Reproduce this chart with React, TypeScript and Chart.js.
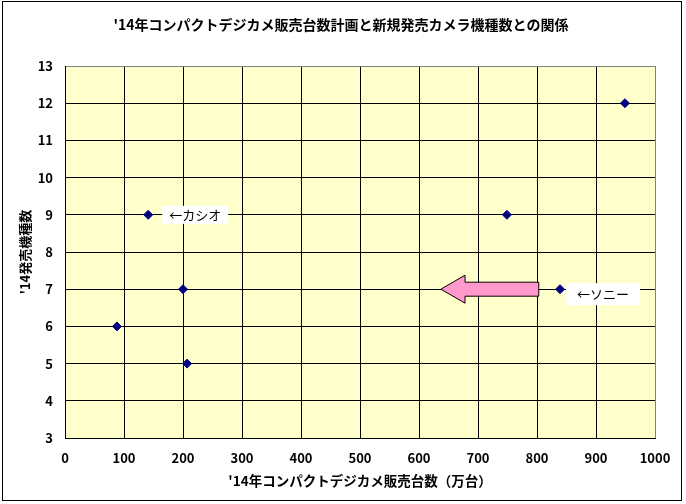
import React, { useEffect, useRef } from "react";
import Chart from "chart.js/auto";

// '14 compact camera sales plan (10k units) vs. number of new models
const salesPlan = [88, 141, 200, 207, 749, 839, 949];
const newModels = [6, 9, 7, 5, 9, 7, 12];

const xRange = { min: 0, max: 1000, step: 100 };
const yRange = { min: 3, max: 13, step: 1 };

const chartTitle = "'14年コンパクトデジカメ販売台数計画と新規発売カメラ機種数との関係";
const xTitle = "'14年コンパクトデジカメ販売台数（万台）";
const yTitle = "'14発売機種数";

// callouts: which point they belong to, and their text
const noteIndex = [1, 5];
const noteText = ["←カシオ", "←ソニー"];

// arrow pointing left along the 7-model line (data units)
const arrowTail = 803;
const arrowBase = 678;
const arrowTip = 637;
const arrowLevel = 7;

const FONT = "'Noto Sans CJK JP', 'Noto Sans', sans-serif";

const noteStyle = [
  { dx: 14, dy: 0, padX: 7, h: 18 },
  { dx: 6, dy: 5, padX: 11, h: 22 },
];

const decorations = {
  id: "decorations",
  beforeDraw(chart: Chart) {
    const { ctx, chartArea: a } = chart;
    ctx.save();
    ctx.fillStyle = "#ffffff";
    ctx.fillRect(0, 0, chart.width, chart.height);
    ctx.fillStyle = "#ffffcc";
    ctx.fillRect(a.left, a.top, a.right - a.left, a.bottom - a.top);
    ctx.strokeStyle = "#000000";
    ctx.lineWidth = 1;
    ctx.strokeRect(2.5, 1.5, 679, 499);
    ctx.fillStyle = "#000000";
    ctx.font = "bold 14px " + FONT;
    ctx.textAlign = "center";
    ctx.textBaseline = "middle";
    ctx.fillText(chartTitle, 341, 25);
    ctx.restore();
  },
  afterDatasetsDraw(chart: Chart) {
    const { ctx } = chart;
    const xs = chart.scales.x;
    const ys = chart.scales.y;
    ctx.save();

    // arrow
    const t = xs.getPixelForValue(arrowTail);
    const b = xs.getPixelForValue(arrowBase);
    const p = xs.getPixelForValue(arrowTip);
    const c = ys.getPixelForValue(arrowLevel);
    ctx.beginPath();
    ctx.moveTo(t, c - 7);
    ctx.lineTo(b, c - 7);
    ctx.lineTo(b, c - 14);
    ctx.lineTo(p, c);
    ctx.lineTo(b, c + 14);
    ctx.lineTo(b, c + 7);
    ctx.lineTo(t, c + 7);
    ctx.closePath();
    ctx.fillStyle = "#ff99cc";
    ctx.fill();
    ctx.strokeStyle = "#000000";
    ctx.lineWidth = 1;
    ctx.stroke();

    // callout labels
    ctx.font = "13px " + FONT;
    ctx.textBaseline = "middle";
    ctx.textAlign = "left";
    noteIndex.forEach((idx, i) => {
      const s = noteStyle[i];
      const px = xs.getPixelForValue(salesPlan[idx]);
      const py = ys.getPixelForValue(newModels[idx]);
      const w = ctx.measureText(noteText[i]).width;
      const left = px + s.dx;
      const cy = py + s.dy;
      ctx.fillStyle = "#ffffff";
      ctx.fillRect(left, cy - s.h / 2, w + s.padX * 2, s.h);
      ctx.fillStyle = "#000000";
      ctx.fillText(noteText[i], left + s.padX, cy);
    });
    ctx.restore();
  },
};

const App: React.FC = () => {
  const canvasRef = useRef<HTMLCanvasElement | null>(null);
  const chartRef = useRef<Chart | null>(null);

  useEffect(() => {
    document.body.style.margin = "0";
    if (!canvasRef.current) return;
    if (chartRef.current) chartRef.current.destroy();
    const ctx = canvasRef.current.getContext("2d");
    if (!ctx) return;

    chartRef.current = new Chart(ctx, {
      type: "scatter",
      data: {
        datasets: [
          {
            label: "機種数",
            data: salesPlan.map((x, i) => ({ x, y: newModels[i] })),
            pointStyle: "rectRot",
            pointRadius: 4.5,
            backgroundColor: "#000080",
            borderColor: "#000080",
            borderWidth: 1,
          },
        ],
      },
      options: {
        responsive: false,
        animation: false,
        layout: { padding: { top: 66, right: 31, left: 0, bottom: 0 } },
        plugins: {
          legend: { display: false },
          tooltip: { enabled: false },
          title: { display: false },
        },
        scales: {
          x: {
            type: "linear",
            min: xRange.min,
            max: xRange.max,
            afterFit: (s: any) => {
              s.height = 66;
            },
            ticks: {
              stepSize: xRange.step,
              color: "#000000",
              padding: 12,
              maxRotation: 0,
              callback: (v: any) => String(v),
              font: { family: FONT, size: 13, weight: "bold" },
            },
            grid: {
              drawTicks: false,
              color: (c: any) => (c.tick && c.tick.value === xRange.max ? "#808080" : "#000000"),
            },
            border: { color: "#000000" },
            title: {
              display: true,
              text: xTitle,
              color: "#000000",
              font: { family: FONT, size: 13.5, weight: "bold" },
              padding: { bottom: 15 },
            },
          },
          y: {
            type: "linear",
            min: yRange.min,
            max: yRange.max,
            afterFit: (s: any) => {
              s.width = 65;
            },
            ticks: {
              stepSize: yRange.step,
              color: "#000000",
              padding: 12,
              callback: (v: any) => String(v),
              font: { family: FONT, size: 13, weight: "bold" },
            },
            grid: {
              drawTicks: false,
              color: (c: any) => (c.tick && c.tick.value === yRange.max ? "#808080" : "#000000"),
            },
            border: { color: "#000000" },
            title: {
              display: true,
              text: yTitle,
              color: "#000000",
              font: { family: FONT, size: 13, weight: "bold" },
              padding: { top: 17 },
            },
          },
        },
      },
      plugins: [decorations],
    });

    return () => {
      if (chartRef.current) {
        chartRef.current.destroy();
        chartRef.current = null;
      }
    };
  }, []);

  return <canvas ref={canvasRef} width={686} height={504} style={{ display: "block" }} />;
};

export default App;
